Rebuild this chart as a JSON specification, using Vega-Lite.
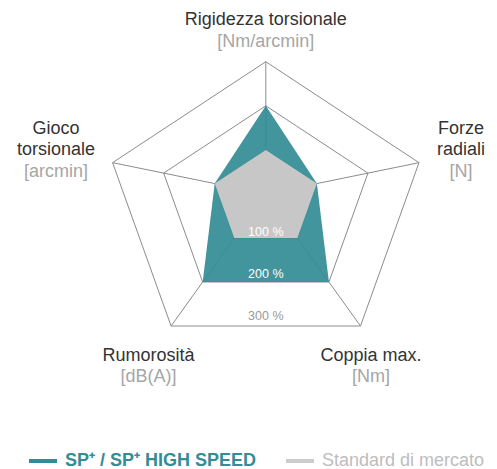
{
  "$schema": "https://vega.github.io/schema/vega-lite/v6.json",
  "width": 497,
  "height": 469,
  "padding": 0,
  "autosize": {"type": "none"},
  "config": {"view": {"stroke": null}, "font": "Liberation Sans"},
  "datasets": {
    "scores": [
      {"series": "SP⁺ / SP⁺ HIGH SPEED", "axis": "Rigidezza torsionale", "value": 200},
      {"series": "SP⁺ / SP⁺ HIGH SPEED", "axis": "Forze radiali", "value": 100},
      {"series": "SP⁺ / SP⁺ HIGH SPEED", "axis": "Coppia max.", "value": 200},
      {"series": "SP⁺ / SP⁺ HIGH SPEED", "axis": "Rumorosità", "value": 200},
      {"series": "SP⁺ / SP⁺ HIGH SPEED", "axis": "Gioco torsionale", "value": 100},
      {"series": "Standard di mercato", "axis": "Rigidezza torsionale", "value": 100},
      {"series": "Standard di mercato", "axis": "Forze radiali", "value": 100},
      {"series": "Standard di mercato", "axis": "Coppia max.", "value": 100},
      {"series": "Standard di mercato", "axis": "Rumorosità", "value": 100},
      {"series": "Standard di mercato", "axis": "Gioco torsionale", "value": 100}
    ],
    "axes": [
      {"axis": "Rigidezza torsionale", "name": "Rigidezza torsionale", "unit": "[Nm/arcmin]"},
      {"axis": "Forze radiali", "name": "Forze\nradiali", "unit": "[N]"},
      {"axis": "Coppia max.", "name": "Coppia max.", "unit": "[Nm]"},
      {"axis": "Rumorosità", "name": "Rumorosità", "unit": "[dB(A)]"},
      {"axis": "Gioco torsionale", "name": "Gioco\ntorsionale", "unit": "[arcmin]"}
    ],
    "grid": [
      {"level": 100, "axis": "Rigidezza torsionale"},
      {"level": 100, "axis": "Forze radiali"},
      {"level": 100, "axis": "Coppia max."},
      {"level": 100, "axis": "Rumorosità"},
      {"level": 100, "axis": "Gioco torsionale"},
      {"level": 200, "axis": "Rigidezza torsionale"},
      {"level": 200, "axis": "Forze radiali"},
      {"level": 200, "axis": "Coppia max."},
      {"level": 200, "axis": "Rumorosità"},
      {"level": 200, "axis": "Gioco torsionale"},
      {"level": 300, "axis": "Rigidezza torsionale"},
      {"level": 300, "axis": "Forze radiali"},
      {"level": 300, "axis": "Coppia max."},
      {"level": 300, "axis": "Rumorosità"},
      {"level": 300, "axis": "Gioco torsionale"}
    ],
    "levels": [
      {"level": 100, "label": "100 %"},
      {"level": 200, "label": "200 %"},
      {"level": 300, "label": "300 %"}
    ]
  },
  "encoding": {
    "x": {"field": "x", "type": "quantitative", "axis": null, "scale": {"domain": [-4.9497, 4.3054], "nice": false, "zero": false}},
    "y": {"field": "y", "type": "quantitative", "axis": null, "scale": {"domain": [-5.6468, 3.9836], "nice": false, "zero": false}}
  },
  "layer": [
    {
      "data": {"name": "grid"},
      "transform": [
        {"calculate": "indexof(['Rigidezza torsionale','Forze radiali','Coppia max.','Rumorosità','Gioco torsionale'], datum.axis)", "as": "idx"},
        {"calculate": "datum.idx * 2 * PI / 5", "as": "a"},
        {"calculate": "datum.level / 100 * sin(datum.a)", "as": "x"},
        {"calculate": "datum.level / 100 * (cos(datum.a) - 0.0945)", "as": "y"}
      ],
      "mark": {"type": "line", "interpolate": "linear-closed", "stroke": "#8c8c8c", "strokeWidth": 1},
      "encoding": {
        "order": {"field": "idx", "type": "quantitative"},
        "detail": {"field": "level", "type": "nominal"}
      }
    },
    {
      "data": {"name": "axes"},
      "transform": [
        {"calculate": "indexof(['Rigidezza torsionale','Forze radiali','Coppia max.','Rumorosità','Gioco torsionale'], datum.axis)", "as": "idx"},
        {"calculate": "datum.idx * 2 * PI / 5", "as": "a"},
        {"calculate": "0", "as": "x"},
        {"calculate": "0", "as": "y"},
        {"calculate": "3 * sin(datum.a)", "as": "x2"},
        {"calculate": "3 * (cos(datum.a) - 0.0945)", "as": "y2"}
      ],
      "mark": {"type": "rule", "stroke": "#8c8c8c", "strokeWidth": 1},
      "encoding": {
        "x2": {"field": "x2"},
        "y2": {"field": "y2"}
      }
    },
    {
      "data": {"name": "scores"},
      "transform": [
        {"calculate": "indexof(['Rigidezza torsionale','Forze radiali','Coppia max.','Rumorosità','Gioco torsionale'], datum.axis)", "as": "idx"},
        {"calculate": "datum.idx * 2 * PI / 5", "as": "a"},
        {"calculate": "datum.value / 100 * sin(datum.a)", "as": "x"},
        {"calculate": "datum.value / 100 * (cos(datum.a) - 0.0945)", "as": "y"}
      ],
      "mark": {"type": "line", "interpolate": "linear-closed", "filled": true},
      "encoding": {
        "order": {"field": "idx", "type": "quantitative"},
        "opacity": {"condition": {"test": "datum.series === 'Standard di mercato'", "value": 1}, "value": 0.93},
        "color": {
          "field": "series", "type": "nominal",
          "scale": {"domain": ["SP⁺ / SP⁺ HIGH SPEED", "Standard di mercato"], "range": ["#348c96", "#c7c7c7"]},
          "legend": {
            "title": null, "orient": "none", "legendX": 27, "legendY": 445, "direction": "horizontal",
            "symbolType": "stroke", "symbolSize": 784, "symbolStrokeWidth": 4, "symbolOpacity": 1,
            "symbolStrokeColor": {"expr": "datum.value === 'Standard di mercato' ? '#cccccc' : '#348c96'"},
            "labelColor": {"expr": "datum.value === 'Standard di mercato' ? '#bdbdbd' : '#348c96'"},
            "labelFontWeight": {"expr": "datum.value === 'Standard di mercato' ? 'normal' : 'bold'"},
            "labelFontSize": 18, "labelLimit": 400, "labelOffset": 6, "columnPadding": 21
          }
        }
      }
    },
    {
      "data": {"name": "levels"},
      "transform": [
        {"calculate": "0", "as": "x"},
        {"calculate": "0.091 - 0.8635 * datum.level / 100", "as": "y"}
      ],
      "mark": {"type": "text", "baseline": "middle", "fontSize": 12.5, "align": "center"},
      "encoding": {
        "text": {"field": "label"},
        "color": {"condition": {"test": "datum.level < 300", "value": "#ffffff"}, "value": "#999999"}
      }
    },
    {
      "data": {"name": "axes"},
      "transform": [
        {"calculate": "indexof(['Rigidezza torsionale','Forze radiali','Coppia max.','Rumorosità','Gioco torsionale'], datum.axis)", "as": "idx"},
        {"calculate": "[0, 3.635, 1.959, -2.184, -3.907][datum.idx]", "as": "x"},
        {"calculate": "[3.46, 1.242, -3.419, -3.419, 1.242][datum.idx]", "as": "y"}
      ],
      "mark": {"type": "text", "baseline": "alphabetic", "fontSize": 18, "align": "center", "lineBreak": "\n", "lineHeight": 21.5, "color": "#333333"},
      "encoding": {"text": {"field": "name"}}
    },
    {
      "data": {"name": "axes"},
      "transform": [
        {"calculate": "indexof(['Rigidezza torsionale','Forze radiali','Coppia max.','Rumorosità','Gioco torsionale'], datum.axis)", "as": "idx"},
        {"calculate": "indexof(datum.name, '\\n') >= 0 ? 2 : 1", "as": "nlines"},
        {"calculate": "[0, 3.635, 1.959, -2.184, -3.907][datum.idx]", "as": "x"},
        {"calculate": "[3.46, 1.242, -3.419, -3.419, 1.242][datum.idx] - 0.445 * datum.nlines", "as": "y"}
      ],
      "mark": {"type": "text", "baseline": "alphabetic", "fontSize": 18, "align": "center", "color": "#a6a6a6"},
      "encoding": {"text": {"field": "unit"}}
    }
  ]
}
